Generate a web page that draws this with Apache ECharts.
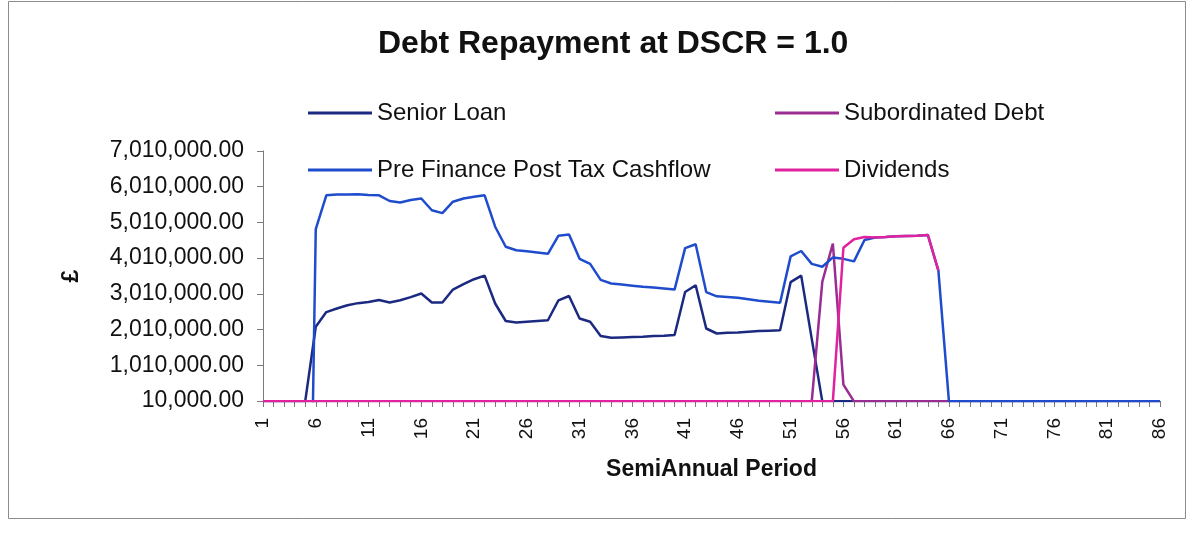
<!DOCTYPE html>
<html>
<head>
<meta charset="utf-8">
<title>Debt Repayment at DSCR = 1.0</title>
<script src="https://cdn.jsdelivr.net/npm/echarts@6/dist/echarts.min.js"></script>
<style>
  html, body { margin: 0; padding: 0; background: #ffffff; }
  #chart { width: 1195px; height: 535px; }
</style>
</head>
<body>
<div id="chart"></div>
<script>
// Semi-annual periods 1..86
const periods = [];
for (let i = 1; i <= 86; i++) periods.push(String(i));

// Y axis tick values (offset by 10,000 from round millions)
const yTicks = [10000, 1010000, 2010000, 3010000, 4010000, 5010000, 6010000, 7010000];

// Values in £, ten periods per row
const seniorLoan = [
  0, 0, 0, 0, 0, 2090000, 2500000, 2600000, 2690000, 2750000,
  2780000, 2840000, 2770000, 2830000, 2920000, 3020000, 2770000, 2770000, 3130000, 3280000,
  3420000, 3520000, 2740000, 2250000, 2210000, 2230000, 2250000, 2270000, 2830000, 2950000,
  2320000, 2230000, 1830000, 1780000, 1790000, 1800000, 1810000, 1830000, 1840000, 1860000,
  3060000, 3250000, 2040000, 1900000, 1920000, 1930000, 1950000, 1970000, 1980000, 1990000,
  3340000, 3520000, 1750000, 0, 0, 0, 0, 0, 0, 0,
  0, 0, 0, 0, 0, 0, 0, 0, 0, 0,
  0, 0, 0, 0, 0, 0, 0, 0, 0, 0,
  0, 0, 0, 0, 0, 0
];

const subordinatedDebt = [
  0, 0, 0, 0, 0, 0, 0, 0, 0, 0,
  0, 0, 0, 0, 0, 0, 0, 0, 0, 0,
  0, 0, 0, 0, 0, 0, 0, 0, 0, 0,
  0, 0, 0, 0, 0, 0, 0, 0, 0, 0,
  0, 0, 0, 0, 0, 0, 0, 0, 0, 0,
  0, 0, 0, 3350000, 4420000, 470000, 0, 0, 0, 0,
  0, 0, 0, 0, 0, 0, 0, 0, 0, 0,
  0, 0, 0, 0, 0, 0, 0, 0, 0, 0,
  0, 0, 0, 0, 0, 0
];

// Construction-period cashflow is negative and falls below the axis minimum
const preFinanceCashflow = [
  null, null, null, null, -13500000, 4820000, 5770000, 5790000, 5790000, 5800000,
  5780000, 5770000, 5610000, 5570000, 5640000, 5680000, 5350000, 5270000, 5590000, 5680000,
  5730000, 5770000, 4890000, 4330000, 4230000, 4200000, 4170000, 4130000, 4640000, 4670000,
  3990000, 3850000, 3400000, 3300000, 3270000, 3240000, 3210000, 3190000, 3160000, 3130000,
  4290000, 4400000, 3060000, 2940000, 2920000, 2900000, 2860000, 2820000, 2790000, 2760000,
  4060000, 4210000, 3850000, 3770000, 4030000, 3990000, 3920000, 4520000, 4590000, 4600000,
  4620000, 4630000, 4640000, 4660000, 3660000, 0, 0, 0, 0, 0,
  0, 0, 0, 0, 0, 0, 0, 0, 0, 0,
  0, 0, 0, 0, 0, 0
];

const dividends = [
  0, 0, 0, 0, 0, 0, 0, 0, 0, 0,
  0, 0, 0, 0, 0, 0, 0, 0, 0, 0,
  0, 0, 0, 0, 0, 0, 0, 0, 0, 0,
  0, 0, 0, 0, 0, 0, 0, 0, 0, 0,
  0, 0, 0, 0, 0, 0, 0, 0, 0, 0,
  0, 0, 0, 0, 0, 4300000, 4540000, 4600000, 4590000, 4600000,
  4620000, 4630000, 4640000, 4660000, 3660000, null, null, null, null, null,
  null, null, null, null, null, null, null, null, null, null,
  null, null, null, null, null, null
];

const FONT = '"Liberation Sans", Arial, sans-serif';
const AXIS_GREY = '#7a7a7a';

function money(v) {
  const whole = Math.round(v).toString().replace(/\B(?=(\d{3})+(?!\d))/g, ',');
  return whole + '.00';
}

function lineSeries(name, data, color) {
  return {
    name: name,
    type: 'line',
    data: data,
    symbol: 'none',
    clip: true,
    connectNulls: false,
    lineStyle: { color: color, width: 2.5 },
    itemStyle: { color: color },
    emphasis: { disabled: true },
    animation: false
  };
}

const chart = echarts.init(document.getElementById('chart'), null, { renderer: 'canvas' });

// Legend keys are plain line swatches
const legendBase = {
  orient: 'vertical',
  top: 101,
  icon: 'rect',
  itemWidth: 64,
  itemHeight: 3,
  itemGap: 33,
  padding: 0,
  selectedMode: false,
  textStyle: { fontFamily: FONT, fontSize: 24, color: '#111111' }
};

chart.setOption({
  backgroundColor: '#ffffff',
  textStyle: { fontFamily: FONT },
  title: {
    text: 'Debt Repayment at DSCR = 1.0',
    left: 378,
    top: 28,
    padding: 0,
    textStyle: { fontFamily: FONT, fontSize: 32, fontWeight: 'bold', color: '#111111' }
  },
  legend: [
    Object.assign({}, legendBase, { left: 308, data: ['Senior Loan', 'Pre Finance Post Tax Cashflow'] }),
    Object.assign({}, legendBase, { left: 775, data: ['Subordinated Debt', 'Dividends'] })
  ],
  grid: { left: 263, right: 35, top: 151, bottom: 134, containLabel: false },
  xAxis: {
    type: 'category',
    data: periods,
    boundaryGap: false,
    axisLine: { show: true, lineStyle: { color: AXIS_GREY, width: 1 } },
    axisTick: { show: true, interval: 0, length: 6, inside: false, lineStyle: { color: AXIS_GREY } },
    axisLabel: { interval: 4, rotate: 90, margin: 17, fontFamily: FONT, fontSize: 19, color: '#111111' },
    splitLine: { show: false },
    name: 'SemiAnnual Period',
    nameLocation: 'middle',
    nameGap: 57,
    nameTextStyle: { fontFamily: FONT, fontSize: 23, fontWeight: 'bold', color: '#111111' }
  },
  yAxis: {
    type: 'value',
    min: yTicks[0],
    max: yTicks[yTicks.length - 1],
    axisLine: { show: true, lineStyle: { color: AXIS_GREY, width: 1 } },
    axisTick: { show: true, length: 6, inside: false, customValues: yTicks, lineStyle: { color: AXIS_GREY } },
    axisLabel: {
      customValues: yTicks,
      margin: 19,
      fontFamily: FONT,
      fontSize: 23,
      color: '#111111',
      formatter: money
    },
    splitLine: { show: false },
    name: '£',
    nameLocation: 'middle',
    nameGap: 180,
    nameTextStyle: { fontFamily: FONT, fontSize: 23, fontWeight: 'bold', color: '#111111' }
  },
  graphic: [{
    type: 'rect',
    shape: { x: 8.5, y: 1.5, width: 1177, height: 517 },
    style: { fill: 'none', stroke: '#8c8c8c', lineWidth: 1 },
    silent: true,
    z: -1
  }],
  series: [
    lineSeries('Senior Loan', seniorLoan, '#1b2a80'),
    lineSeries('Subordinated Debt', subordinatedDebt, '#9a2c92'),
    lineSeries('Pre Finance Post Tax Cashflow', preFinanceCashflow, '#1f4ccc'),
    lineSeries('Dividends', dividends, '#e0229e')
  ]
});
</script>
</body>
</html>
